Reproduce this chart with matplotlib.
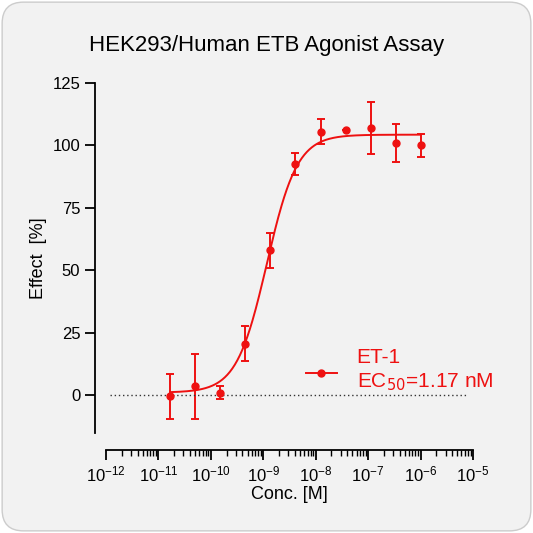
import numpy as np
import matplotlib
matplotlib.use("Agg")
import matplotlib.pyplot as plt
from matplotlib.patches import FancyBboxPatch
from matplotlib.ticker import LogLocator, NullFormatter, FixedLocator

plt.rcParams["font.family"] = ["Liberation Sans", "DejaVu Sans"]

# data: 3-fold dilution of ET-1
conc = 1e-6 / 3.0 ** np.arange(11)
effect = [100, 101, 107, 106, 105.5, 92.5, 58, 20.5, 1, 3.5, -0.5]
err = [4.5, 7.5, 10.5, 0, 5, 4.5, 7, 7, 2.5, 13, 9]
bottom, top, ec50, hill = 1.0, 104.3, 1.17e-9, 1.5

RED = "#ee1111"
W = 533
fig = plt.figure(figsize=(W/100, W/100), dpi=100)
fig.patch.set_facecolor("white")
fig.patches.append(FancyBboxPatch((0.004, 0.004), 0.992, 0.992, boxstyle="round,pad=0,rounding_size=0.04",
                                  transform=fig.transFigure, facecolor="#f2f2f2", edgecolor="#cccccc",
                                  lw=1, zorder=-10))
ax = fig.add_axes([106/W, 100/W, 367/W, 350/W])
ax.set_facecolor("none")
ax.set_xscale("log")
ax.set_xlim(1e-12, 1e-5)
ax.set_ylim(-15.2, 125)

xs = np.logspace(np.log10(conc[-1]), np.log10(conc[0]), 300)
ax.plot(xs, bottom + (top - bottom) / (1 + (ec50 / xs) ** hill), color=RED, lw=1.4)
ax.errorbar(conc, effect, yerr=err, fmt="o", color=RED, ms=5, capsize=3, elinewidth=1.4, capthick=1.4)
ax.plot([1.2e-12, 8e-6], [0, 0], ls=(0, (1, 2)), color="#333333", lw=1)

for s in ["top", "right"]:
    ax.spines[s].set_visible(False)
ax.spines["left"].set_position(("outward", 8))
ax.spines["bottom"].set_position(("outward", 12))
ax.spines["left"].set_bounds(-15.2, 125)
ax.yaxis.set_major_locator(FixedLocator([0, 25, 50, 75, 100, 125]))
ax.xaxis.set_major_locator(LogLocator(base=10, numticks=20))
ax.xaxis.set_minor_locator(LogLocator(base=10, subs=np.arange(2, 10), numticks=20))
ax.xaxis.set_minor_formatter(NullFormatter())
ax.tick_params(axis="both", which="major", length=7, width=1.3, labelsize=12, direction="out")
ax.tick_params(axis="x", which="minor", length=4, width=1)
for s in ["left", "bottom"]:
    ax.spines[s].set_linewidth(1.3)

ax.set_xlabel("Conc. [M]", fontsize=13, labelpad=1)
ax.set_ylabel("Effect  [%]", fontsize=13)
fig.text(0.5, 0.905, "HEK293/Human ETB Agonist Assay", ha="center", fontsize=16)

# legend drawn manually as in the reference
lx = [6.5e-9, 2.5e-8]
ax.plot(lx, [9, 9], color=RED, lw=1.4)
ax.plot([np.sqrt(lx[0]*lx[1])], [9], "o", color=RED, ms=5)
ax.text(6e-8, 15, "ET-1", color=RED, fontsize=15, va="center")
ax.text(6e-8, 5, "EC$_{50}$=1.17 nM", color=RED, fontsize=15, va="center")

fig.savefig("out.png", dpi=100)
